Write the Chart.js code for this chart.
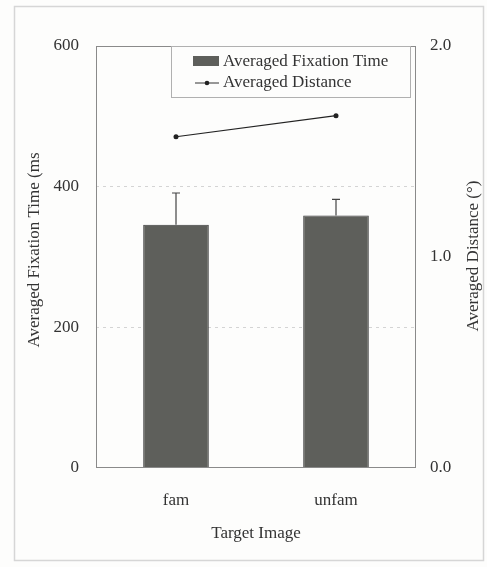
<!DOCTYPE html>
<html>
<head>
<meta charset="utf-8">
<script src="https://cdn.jsdelivr.net/npm/chart.js@4"></script>
<style>
  html, body { margin: 0; padding: 0; background: #fdfdfc; }
  #wrap { width: 487px; height: 567px; position: relative; }
</style>
</head>
<body>
<div id="wrap"><canvas id="myChart"></canvas></div>
<script>
const categories = ['fam', 'unfam']
const fixationTime = [346, 359]
const fixationErrTop = [391, 382]
const avgDistance = [1.57, 1.67]

const leftTitle = 'Averaged Fixation Time (ms'
const rightTitle = 'Averaged Distance (°)'

const barColor = '#5e5f5b'
const textColor = '#333333'
const serif = "'Liberation Serif', 'DejaVu Serif', serif"

// frame round the whole figure, plot box, y titles
const framePlugin = {
  id: 'frame',
  beforeDraw(chart) {
    const c = chart.ctx
    c.save()
    c.fillStyle = '#fdfdfc'
    c.fillRect(0, 0, chart.width, chart.height)
    c.strokeStyle = '#d6d6d6'
    c.lineWidth = 1.5
    c.strokeRect(14.5, 6.5, 469, 554)
    c.restore()
  },
  afterDraw(chart) {
    const a = chart.ctx && chart.chartArea
    const c = chart.ctx
    c.save()
    c.strokeStyle = '#8a8a8a'
    c.lineWidth = 1
    c.strokeRect(a.left + 0.5, a.top + 0.5, a.right - a.left - 1, a.bottom - a.top - 1)
    // both titles read bottom to top
    c.fillStyle = textColor
    c.font = '17px ' + serif
    c.textAlign = 'center'
    c.textBaseline = 'middle'
    c.translate(35, 250)
    c.rotate(-Math.PI / 2)
    c.fillText(leftTitle, 0, 0)
    c.restore()
    c.save()
    c.fillStyle = textColor
    c.font = '17px ' + serif
    c.textAlign = 'center'
    c.textBaseline = 'middle'
    c.translate(474, 256)
    c.rotate(-Math.PI / 2)
    c.fillText(rightTitle, 0, 0)
    c.restore()
  }
}

// upper error bars on the bars
const errorPlugin = {
  id: 'errbars',
  afterDatasetsDraw(chart) {
    const c = chart.ctx
    const meta = chart.getDatasetMeta(0)
    const y = chart.scales.y
    c.save()
    c.strokeStyle = '#444'
    c.lineWidth = 1.2
    meta.data.forEach(function(bar, i) {
      const top = y.getPixelForValue(fixationErrTop[i])
      c.beginPath()
      c.moveTo(bar.x, bar.y)
      c.lineTo(bar.x, top)
      c.moveTo(bar.x - 4, top)
      c.lineTo(bar.x + 4, top)
      c.stroke()
    })
    c.restore()
  }
}

// boxed legend in the top of the plot
const legendPlugin = {
  id: 'boxLegend',
  afterDraw(chart) {
    const c = chart.ctx
    const a = chart.chartArea
    const x0 = a.left + 75, y0 = a.top, w = 239, h = 51
    c.save()
    c.fillStyle = '#fdfdfc'
    c.fillRect(x0, y0, w, h)
    c.strokeStyle = '#b0b0b0'
    c.lineWidth = 1
    c.strokeRect(x0 + 0.5, y0 + 0.5, w, h)
    c.fillStyle = barColor
    c.fillRect(x0 + 22, y0 + 10, 26, 10)
    c.strokeStyle = '#333'
    c.beginPath()
    c.moveTo(x0 + 24, y0 + 37)
    c.lineTo(x0 + 48, y0 + 37)
    c.stroke()
    c.fillStyle = '#222'
    c.beginPath()
    c.arc(x0 + 36, y0 + 37, 2.3, 0, Math.PI * 2)
    c.fill()
    c.fillStyle = textColor
    c.font = '17px ' + serif
    c.textBaseline = 'middle'
    c.fillText(chart.data.datasets[0].label, x0 + 52, y0 + 16)
    c.fillText(chart.data.datasets[1].label, x0 + 52, y0 + 37)
    c.restore()
  }
}

var ctx = document.getElementById('myChart')
var comboChart = new Chart(ctx, {
  data: {
    labels: categories,
    datasets: [
      {
        type: 'bar',
        label: 'Averaged Fixation Time',
        data: fixationTime,
        yAxisID: 'y',
        backgroundColor: barColor,
        borderColor: '#3a3a3a',
        borderWidth: 1,
        barPercentage: 0.41,
        categoryPercentage: 1,
        order: 1,
      },
      {
        type: 'line',
        label: 'Averaged Distance',
        data: avgDistance,
        yAxisID: 'y1',
        borderColor: '#222',
        backgroundColor: '#222',
        borderWidth: 1.2,
        pointRadius: 2.5,
        pointBorderWidth: 0,
        tension: 0,
        order: 0,
      },
    ]
  },
  options: {
    responsive: true,
    maintainAspectRatio: false,
    animation: false,
    layout: { padding: { top: 46, left: 0, right: 0, bottom: 0 } },
    plugins: { legend: { display: false }, tooltip: { enabled: false } },
    scales: {
      x: {
        offset: true,
        grid: { display: false },
        border: { display: false },
        ticks: { color: textColor, font: { family: serif, size: 17 }, padding: 14 },
        title: { display: true, text: 'Target Image', color: textColor,
          font: { family: serif, size: 17 }, padding: { top: 0, bottom: 23 } },
        afterFit(s) { s.height = 99 }
      },
      y: {
        position: 'left',
        min: 0, max: 600,
        ticks: { stepSize: 200, color: textColor, font: { family: serif, size: 17 }, padding: 17 },
        grid: {
          color: function(c) { return (c.tick.value === 0 || c.tick.value === 600) ? 'rgba(0,0,0,0)' : '#d4d4d4' },
          drawTicks: false, lineWidth: 1
        },
        border: { display: false, dash: [3, 4] },
        afterFit(s) { s.width = 96 }
      },
      y1: {
        position: 'right',
        min: 0, max: 2,
        ticks: { stepSize: 1, color: textColor, font: { family: serif, size: 17 }, padding: 6,
          callback: function(v) { return v.toFixed(1) } },
        grid: { display: false },
        border: { display: false },
        afterFit(s) { s.width = 71 }
      }
    }
  },
  plugins: [framePlugin, errorPlugin, legendPlugin]
})
</script>
</body>
</html>
